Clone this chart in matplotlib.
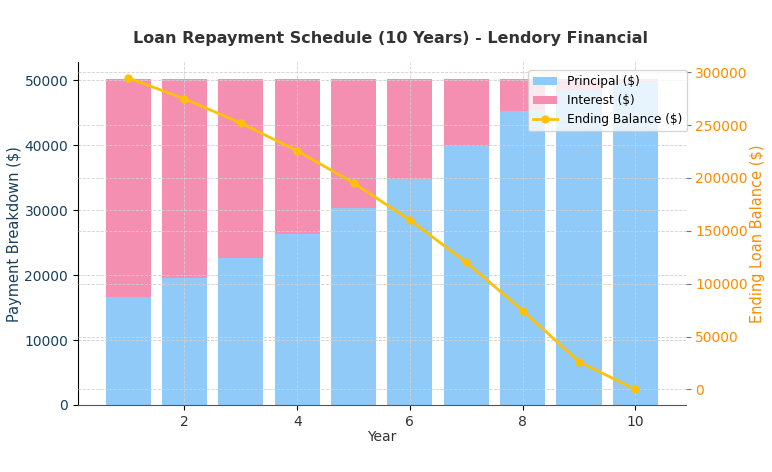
import numpy as np
import matplotlib
matplotlib.use("Agg")
from matplotlib import pyplot as plt

years = [1, 2, 3, 4, 5, 6, 7, 8, 9, 10]
payment = 50250
principal = [16570, 19500, 22660, 26300, 30260, 34770, 39850, 45280, 48500, 49700]
interest = [payment - p for p in principal]
balance = [294700, 274900, 251900, 225700, 195200, 160200, 120200, 74600, 26100, 0]

c_principal = '#90CAF9'
c_interest = '#F48FB1'
c_line = '#FFC107'
c_left = '#17405e'
c_right = '#FB8C00'

fig, ax1 = plt.subplots(figsize=(7.72, 4.72), dpi=100)

ax1.bar(years, principal, color=c_principal, label='Principal ($)')
ax1.bar(years, interest, bottom=principal, color=c_interest, label='Interest ($)')
ax1.set_xlabel('Year', fontsize=10, color='#333333', labelpad=1)
ax1.set_ylabel('Payment Breakdown ($)', fontsize=10.5, color=c_left, labelpad=1.5)
ax1.tick_params(axis='y', labelcolor=c_left, labelsize=10)
ax1.tick_params(axis='x', labelcolor='#333333', labelsize=10)
ax1.grid(True, linestyle='--', color='#d0d0d0', linewidth=0.6)
ax1.spines['top'].set_visible(False)
ax1.spines['right'].set_visible(False)
ax1.spines['bottom'].set_color('#555555')

ax2 = ax1.twinx()
ax2.plot(years, balance, color=c_line, marker='o', markersize=5, linewidth=2, label='Ending Balance ($)')
ax2.set_ylabel('Ending Loan Balance ($)', fontsize=10.5, color=c_right, labelpad=1.5)
ax2.tick_params(axis='y', labelcolor=c_right, labelsize=10, color='#777777')
ax2.grid(True, axis='y', linestyle='--', color='#d0d0d0', linewidth=0.6)
for s in ['top', 'right', 'left', 'bottom']:
    ax2.spines[s].set_visible(False)

h1, l1 = ax1.get_legend_handles_labels()
h2, l2 = ax2.get_legend_handles_labels()
ax2.legend(h1 + h2, l1 + l2, loc='upper right', fontsize=8.7,
           bbox_to_anchor=(1.003, 0.977), borderaxespad=0)

ax1.set_title('Loan Repayment Schedule (10 Years) - Lendory Financial',
              fontsize=11.5, fontweight='bold', color='#333333', pad=14, x=0.514)

plt.subplots_adjust(left=0.101, right=0.888, top=0.868, bottom=0.142)
plt.savefig('out.png', dpi=100)
